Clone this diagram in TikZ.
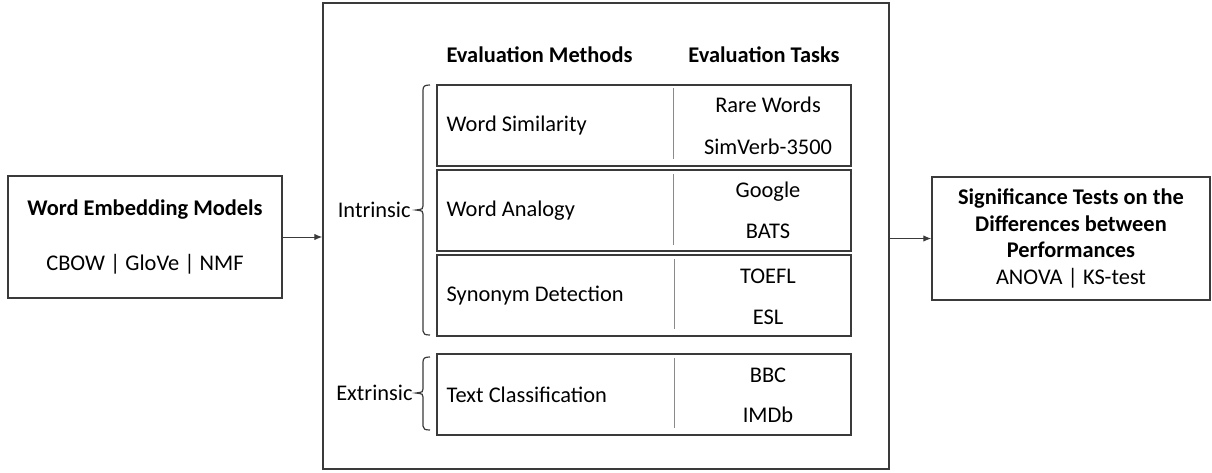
\documentclass[tikz,border=0pt]{standalone}
\usepackage{fontspec}
\setmainfont{Carlito}
\usetikzlibrary{positioning,arrows.meta}

\definecolor{linegray}{HTML}{3A3A3A}
\definecolor{divgray}{HTML}{8A8A8A}

\begin{document}
\begin{tikzpicture}[x=0.5pt,y=-0.5pt,
    font=\fontsize{11.2}{13.3}\selectfont,
    box/.style={draw=linegray,line width=0.7pt,inner sep=0pt,align=center},
    evalbox/.style={draw=linegray,line width=0.7pt,minimum width=207pt,minimum height=40.5pt,inner sep=0pt},
    method/.style={anchor=west,inner sep=0pt},
    task/.style={anchor=base,inner sep=0pt},
    divider/.style={draw=divgray,line width=0.5pt},
    brace/.style={draw=linegray,line width=0.6pt},
    arr/.style={draw=linegray,line width=0.5pt,-{Latex[length=4pt,width=3.2pt]}}]
    \useasboundingbox (0,0) rectangle (1212,472);

    \node[box,minimum width=137pt,minimum height=61pt] (models) at (145,237)
        {\textbf{Word Embedding Models}\\[14pt]CBOW | GloVe | NMF};
    \node[box,minimum width=283pt,minimum height=233pt] (framework) at (606,236) {};
    \node[box,minimum width=139pt,minimum height=61.5pt] (tests) at (1071,238.5)
        {\textbf{Significance Tests on the}\\\textbf{Differences between}\\\textbf{Performances}\\ANOVA | KS-test};

    \node[task] (methods) at (539.5,62) {\textbf{Evaluation Methods}};
    \node[task] (tasks) at (764,62) {\textbf{Evaluation Tasks}};

    \node[evalbox] (ws) at (644,125.5) {};
    \node[evalbox] (wa) at (644,210.5) {};
    \node[evalbox] (sd) at (644,295.5) {};
    \node[evalbox] (tc) at (644,394.5) {};

    \node[method,right=5pt of ws.west] (wsl) {Word Similarity};
    \node[method,right=5pt of wa.west] (wal) {Word Analogy};
    \node[method,right=5pt of sd.west] (sdl) {Synonym Detection};
    \node[method,right=5pt of tc.west] (tcl) {Text Classification};

    \draw[divider] (673,88) -- (673,159);
    \draw[divider] (673,174) -- (673,245);
    \draw[divider] (674,259) -- (674,329);
    \draw[divider] (674,358) -- (674,428);

    \node[task] (rw) at (768,112) {Rare Words};
    \node[task] (sv) at (768,154) {SimVerb-3500};
    \node[task] (go) at (768,197) {Google};
    \node[task] (ba) at (768,238) {BATS};
    \node[task] (to) at (768,283) {TOEFL};
    \node[task] (es) at (768,324) {ESL};
    \node[task] (bb) at (768,382) {BBC};
    \node[task] (im) at (768,422) {IMDb};

    \node[inner sep=0pt,anchor=east] (intr) at (411,210) {Intrinsic};
    \node[inner sep=0pt,anchor=east] (extr) at (413,393) {Extrinsic};

    \draw[brace] (430,85) .. controls (425,85) and (423,86) .. (423,90) -- (423,206)
        .. controls (423,209) .. (416,210) .. controls (423,211) .. (423,214)
        -- (423,331) .. controls (423,334) and (425,335) .. (430,335);
    \draw[brace] (430,357) .. controls (425,357) and (423,358) .. (423,362) -- (423,389)
        .. controls (423,392) .. (416,393) .. controls (423,394) .. (423,397)
        -- (423,426) .. controls (423,429) and (425,430) .. (430,430);

    \draw[arr] (models.east) -- (models.east -| framework.west);
    \draw[arr] (framework.east |- tests.west) -- (tests.west);
\end{tikzpicture}
\end{document}
